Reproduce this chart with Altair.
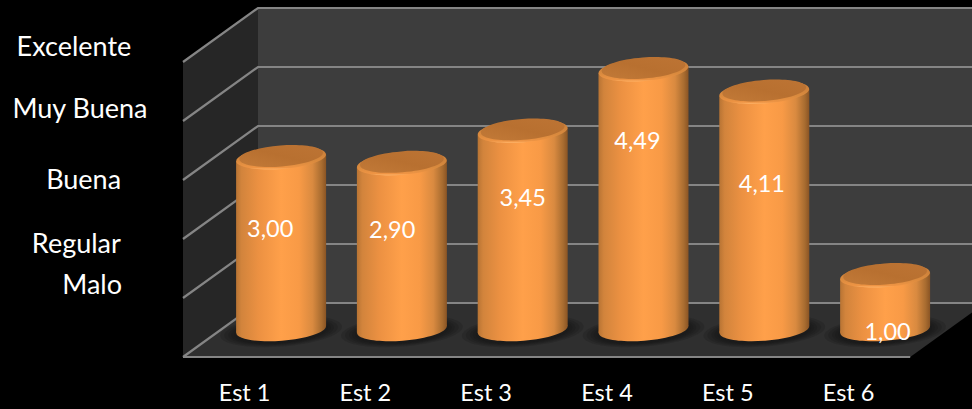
import altair as alt
import pandas as pd

# Chart content
students = ["Est 1", "Est 2", "Est 3", "Est 4", "Est 5", "Est 6"]
scores = [3.00, 2.90, 3.45, 4.49, 4.11, 1.00]
rating_names = ["Excelente", "Muy Buena", "Buena", "Regular", "Malo"]
grid_levels = [0, 1, 2, 3, 4, 5]

# Canvas and oblique projection, in units of one category (x) and one score point (y)
W, H = 972, 409
UNIT_X, UNIT_Y = 121.2, 59.0
ORIGIN_X, ORIGIN_Y = 183, 357
DEPTH_X, DEPTH_Y = 75 / UNIT_X, 54 / UNIT_Y
x_scale = alt.Scale(domain=[-ORIGIN_X / UNIT_X, (W - ORIGIN_X) / UNIT_X], nice=False, zero=False)
y_scale = alt.Scale(domain=[(ORIGIN_Y - H) / UNIT_Y, ORIGIN_Y / UNIT_Y], nice=False, zero=False)
X = alt.X("x:Q", scale=x_scale, axis=None)
Y = alt.Y("y:Q", scale=y_scale, axis=None, stack=None)
Y2 = alt.Y2("y2:Q")
N = len(students)
TOP = grid_levels[-1]

# Cylinder geometry
BAR_STEP = 120.8 / UNIT_X
RADIUS = 45.0 / UNIT_X
TILT = 3.3 / UNIT_Y
CAP_SHIFT = -0.08
BASE_LEVEL = 0.466
ELLIPSE = "M -0.997 0.078 A 1 0.25 -4.5 1 1 0.997 -0.078 A 1 0.25 -4.5 1 1 -0.997 0.078 Z"
CAP_SIZE = 90.0 ** 2

# Placement of the free-standing texts
value_label_drop = [1.22, 1.14, 1.15, 1.23, 1.57, 0.97]
value_label_shift = [-0.09, -0.08, 0.0, -0.05, -0.02, 0.02]
rating_label_x = [-0.90, -0.85, -0.82, -0.88, -0.75]
rating_label_y = [5.23, 4.18, 2.99, 1.89, 1.21]
student_label_y = -0.62
student_label_x = 0.508


def centre(i):
    return 0.5 + i * BAR_STEP + DEPTH_X / 2


def gradient(x2, y1, y2, stops):
    return alt.LinearGradient(
        gradient="linear",
        x1=0, x2=x2, y1=y1, y2=y2,
        stops=[alt.GradientStop(color=c, offset=o) for o, c in stops],
    )


def poly_area(rows, color):
    return alt.Chart(pd.DataFrame(rows, columns=["x", "y", "y2"])).mark_area(
        color=color, line=False, interpolate="linear", opacity=1
    ).encode(x=X, y=Y, y2=Y2)


# Room: back wall, side wall and floor
back_wall = poly_area([(DEPTH_X, DEPTH_Y, TOP + DEPTH_Y), (N + DEPTH_X, DEPTH_Y, TOP + DEPTH_Y)], "#3d3d3d")
side_wall = poly_area([(0, 0, TOP), (DEPTH_X, DEPTH_Y, TOP + DEPTH_Y)], "#262626")
floor = poly_area(
    [(0, 0, 0), (DEPTH_X, 0, DEPTH_Y), (N, 0, DEPTH_Y), (N + DEPTH_X, DEPTH_Y, DEPTH_Y)], "#2f2f2f"
)

# Grid lines run along the side wall and then across the back wall
grid_rows = []
for level in grid_levels:
    grid_rows += [
        dict(level=level, step=0, x=0, y=level),
        dict(level=level, step=1, x=DEPTH_X, y=level + DEPTH_Y),
        dict(level=level, step=2, x=N + DEPTH_X, y=level + DEPTH_Y),
    ]
grid_rows += [dict(level=-1, step=0, x=0, y=0), dict(level=-1, step=1, x=N, y=0)]
grid = alt.Chart(pd.DataFrame(grid_rows)).mark_line(color="#858585", strokeWidth=2.2).encode(
    x=X, y=Y, detail="level:N", order="step:Q"
)

# Cylinders
bars = pd.DataFrame({"student": students, "score": scores})
bars["x"] = [centre(i) for i in range(N)]
bars["cap"] = bars["score"] + DEPTH_Y / 2 + CAP_SHIFT
bars["base"] = BASE_LEVEL

body_rows = []
for row in bars.itertuples():
    body_rows += [
        dict(student=row.student, x=row.x - RADIUS, y=row.cap - TILT, y2=row.base - TILT),
        dict(student=row.student, x=row.x + RADIUS, y=row.cap + TILT, y2=row.base + TILT),
    ]

body_fill = gradient(1, 0, 0, [
    (0, "#b87434"), (0.06, "#d2843c"), (0.25, "#ec9142"), (0.5, "#ffa04a"),
    (0.7, "#f89a46"), (0.85, "#d98a40"), (0.95, "#a86c30"), (1, "#8a5424"),
])
rim_fill = gradient(0, 0, 1, [
    (0, "#c27a38"), (0.65, "#d98a3e"), (0.92, "#ee9444"), (1, "#ffb468"),
])
top_fill = gradient(1, 1, 0, [
    (0, "#c27a38"), (0.5, "#b87030"), (1, "#bd7434"),
])


def ellipse_layer(source, y_field, size, fill, opacity=1.0):
    return alt.Chart(source).mark_point(
        shape=ELLIPSE, filled=True, size=size, fill=fill, opacity=opacity, strokeWidth=0
    ).encode(x=X, y=alt.Y(f"{y_field}:Q", scale=y_scale, axis=None, stack=None))


# Soft contact shadow on the floor, built up from widening translucent ellipses
shadow_src = bars.assign(shadow=BASE_LEVEL - 0.03)
shadows = [
    ellipse_layer(shadow_src, "shadow", (90.0 + grow) ** 2, "#141414", 0.2)
    for grow in (32, 24, 16, 10, 4)
]

body = alt.Chart(pd.DataFrame(body_rows)).mark_area(
    fill=body_fill, line=False, interpolate="linear", opacity=1
).encode(x=X, y=Y, y2=Y2, detail="student:N")

bottom = ellipse_layer(bars, "base", CAP_SIZE, body_fill)
rim = ellipse_layer(bars, "cap", CAP_SIZE, rim_fill)
top_src = bars.assign(top=bars["cap"] + 0.03)
top = ellipse_layer(top_src, "top", 84.0 ** 2, top_fill)

# Texts
FONT = "Lato"
value_text = bars.assign(
    label=[f"{v:.2f}".replace(".", ",") for v in scores],
    tx=[centre(i) + s for i, s in enumerate(value_label_shift)],
    ty=[c - d for c, d in zip(bars["cap"], value_label_drop)],
)
value_labels = alt.Chart(value_text).mark_text(
    font=FONT, fontSize=23.5, color="white", align="center", baseline="middle"
).encode(
    x=alt.X("tx:Q", scale=x_scale, axis=None),
    y=alt.Y("ty:Q", scale=y_scale, axis=None),
    text="label:N",
)

student_labels = alt.Chart(
    pd.DataFrame({
        "label": students,
        "x": [student_label_x + i * BAR_STEP for i in range(N)],
        "y": [student_label_y] * N,
    })
).mark_text(font=FONT, fontSize=23.5, color="white", align="center", baseline="middle").encode(
    x=X, y=alt.Y("y:Q", scale=y_scale, axis=None), text="label:N"
)

rating_labels = alt.Chart(
    pd.DataFrame({"label": rating_names, "x": rating_label_x, "y": rating_label_y})
).mark_text(font=FONT, fontSize=27, color="white", align="center", baseline="middle").encode(
    x=X, y=alt.Y("y:Q", scale=y_scale, axis=None), text="label:N"
)

chart = alt.layer(
    back_wall, side_wall, floor, grid, *shadows, bottom, body, rim, top,
    value_labels, student_labels, rating_labels,
).properties(
    width=W, height=H, background="black", padding=0,
    autosize=alt.AutoSizeParams(type="none"),
).configure_view(stroke=None)

chart.save("out.html", embed_options={"renderer": "svg", "actions": False})
